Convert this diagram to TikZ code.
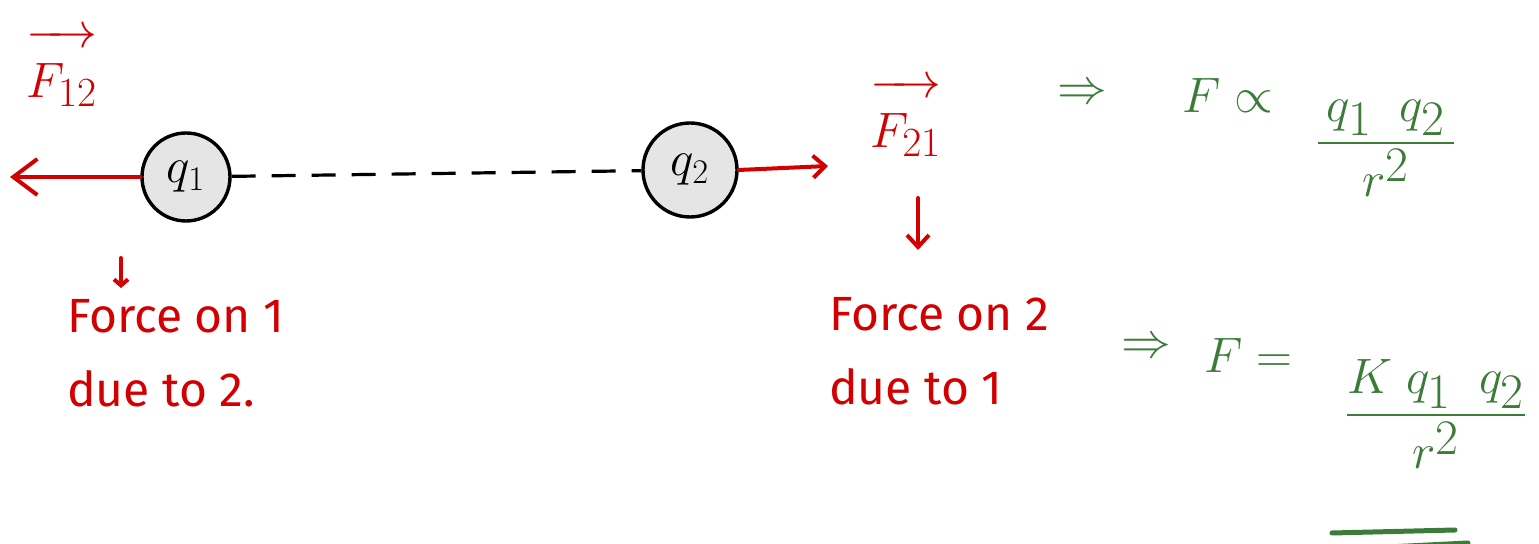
\documentclass[tikz,border=0pt]{standalone}
\usepackage{fontspec,amsmath}
\usepackage{xcolor}
\usetikzlibrary{arrows.meta,positioning}
\setmainfont{Fira Sans}
\definecolor{penred}{RGB}{210,0,0}
\definecolor{pengreen}{RGB}{60,124,56}
\begin{document}
\begin{tikzpicture}[x=.5pt,y=-.5pt,
 charge/.style={circle,draw,line width=1.7pt,fill=black!10,inner sep=0pt,minimum size=44pt,font=\fontsize{26}{30}\selectfont},
 force/.style={draw=penred,line width=2pt,line cap=round,-{Straight Barb[length=6pt,width=11pt]}},
 redlbl/.style={text=penred,font=\fontsize{32}{36}\selectfont},
 note/.style={text=penred,align=left,anchor=north west,font=\fontsize{24}{37}\selectfont},
 eqn/.style={text=pengreen,font=\fontsize{36}{40}\selectfont}]
\useasboundingbox (0,0) rectangle (1539,544);
\node[charge] (q1) at (186,177) {$q_1$};
\node[charge,minimum size=47pt] (q2) at (690,170) {$q_2$};
\draw[line width=1.6pt,dash pattern=on 12pt off 8pt] (q1) -- (q2);
\coordinate (tip12) at (10,177);
\coordinate (tip21) at (828,166);
\draw[force,-{Straight Barb[length=12pt,width=18pt]}] (q1.west) -- (tip12);
\draw[force] (q2.east) -- (tip21);
\node[redlbl] (F12) at (62,68) {$\overrightarrow{F_{12}\rule{0pt}{25pt}}$};
\node[redlbl] (F21) at (906,118) {$\overrightarrow{F_{21}\rule{0pt}{25pt}}$};
\coordinate (d1a) at (121,258);
\coordinate (d1b) at (121,288);
\coordinate (d2a) at (918,198);
\coordinate (d2b) at (918,250);
\draw[force,-{Straight Barb[length=3pt,width=7pt]}] (d1a) -- (d1b);
\draw[force] (d2a) -- (d2b);
\node[note] (on1) at (60,292) {Force on 1\\due to 2.};
\node[note] (on2) at (822,290) {Force on 2\\due to 1};
\node[eqn,font=\fontsize{40}{44}\selectfont] (imp1) at (1082,94) {$\Rightarrow$};
\node[eqn] (prop) at (1228,96) {$F\propto$};
\node[eqn,font=\fontsize{40}{44}\selectfont] (ratio1) at (1386,148) {$\dfrac{\,q_1\;\;q_2\,}{r^2}$};
\node[eqn,font=\fontsize{24}{28}\selectfont] (imp2) at (1146,348) {$\Rightarrow$};
\node[eqn,font=\fontsize{34}{38}\selectfont] (eq) at (1248,356) {$F=$};
\node[eqn,font=\fontsize{42}{46}\selectfont] (ratio2) at (1436,414) {$\dfrac{K\;q_1\;\;q_2}{r^2}$};
\draw[pengreen,line width=2.5pt,line cap=round] (1332,533) -- (1455,530);
\draw[pengreen,line width=2.5pt,line cap=round] (1368,548) -- (1468,543);
\end{tikzpicture}
\end{document}
